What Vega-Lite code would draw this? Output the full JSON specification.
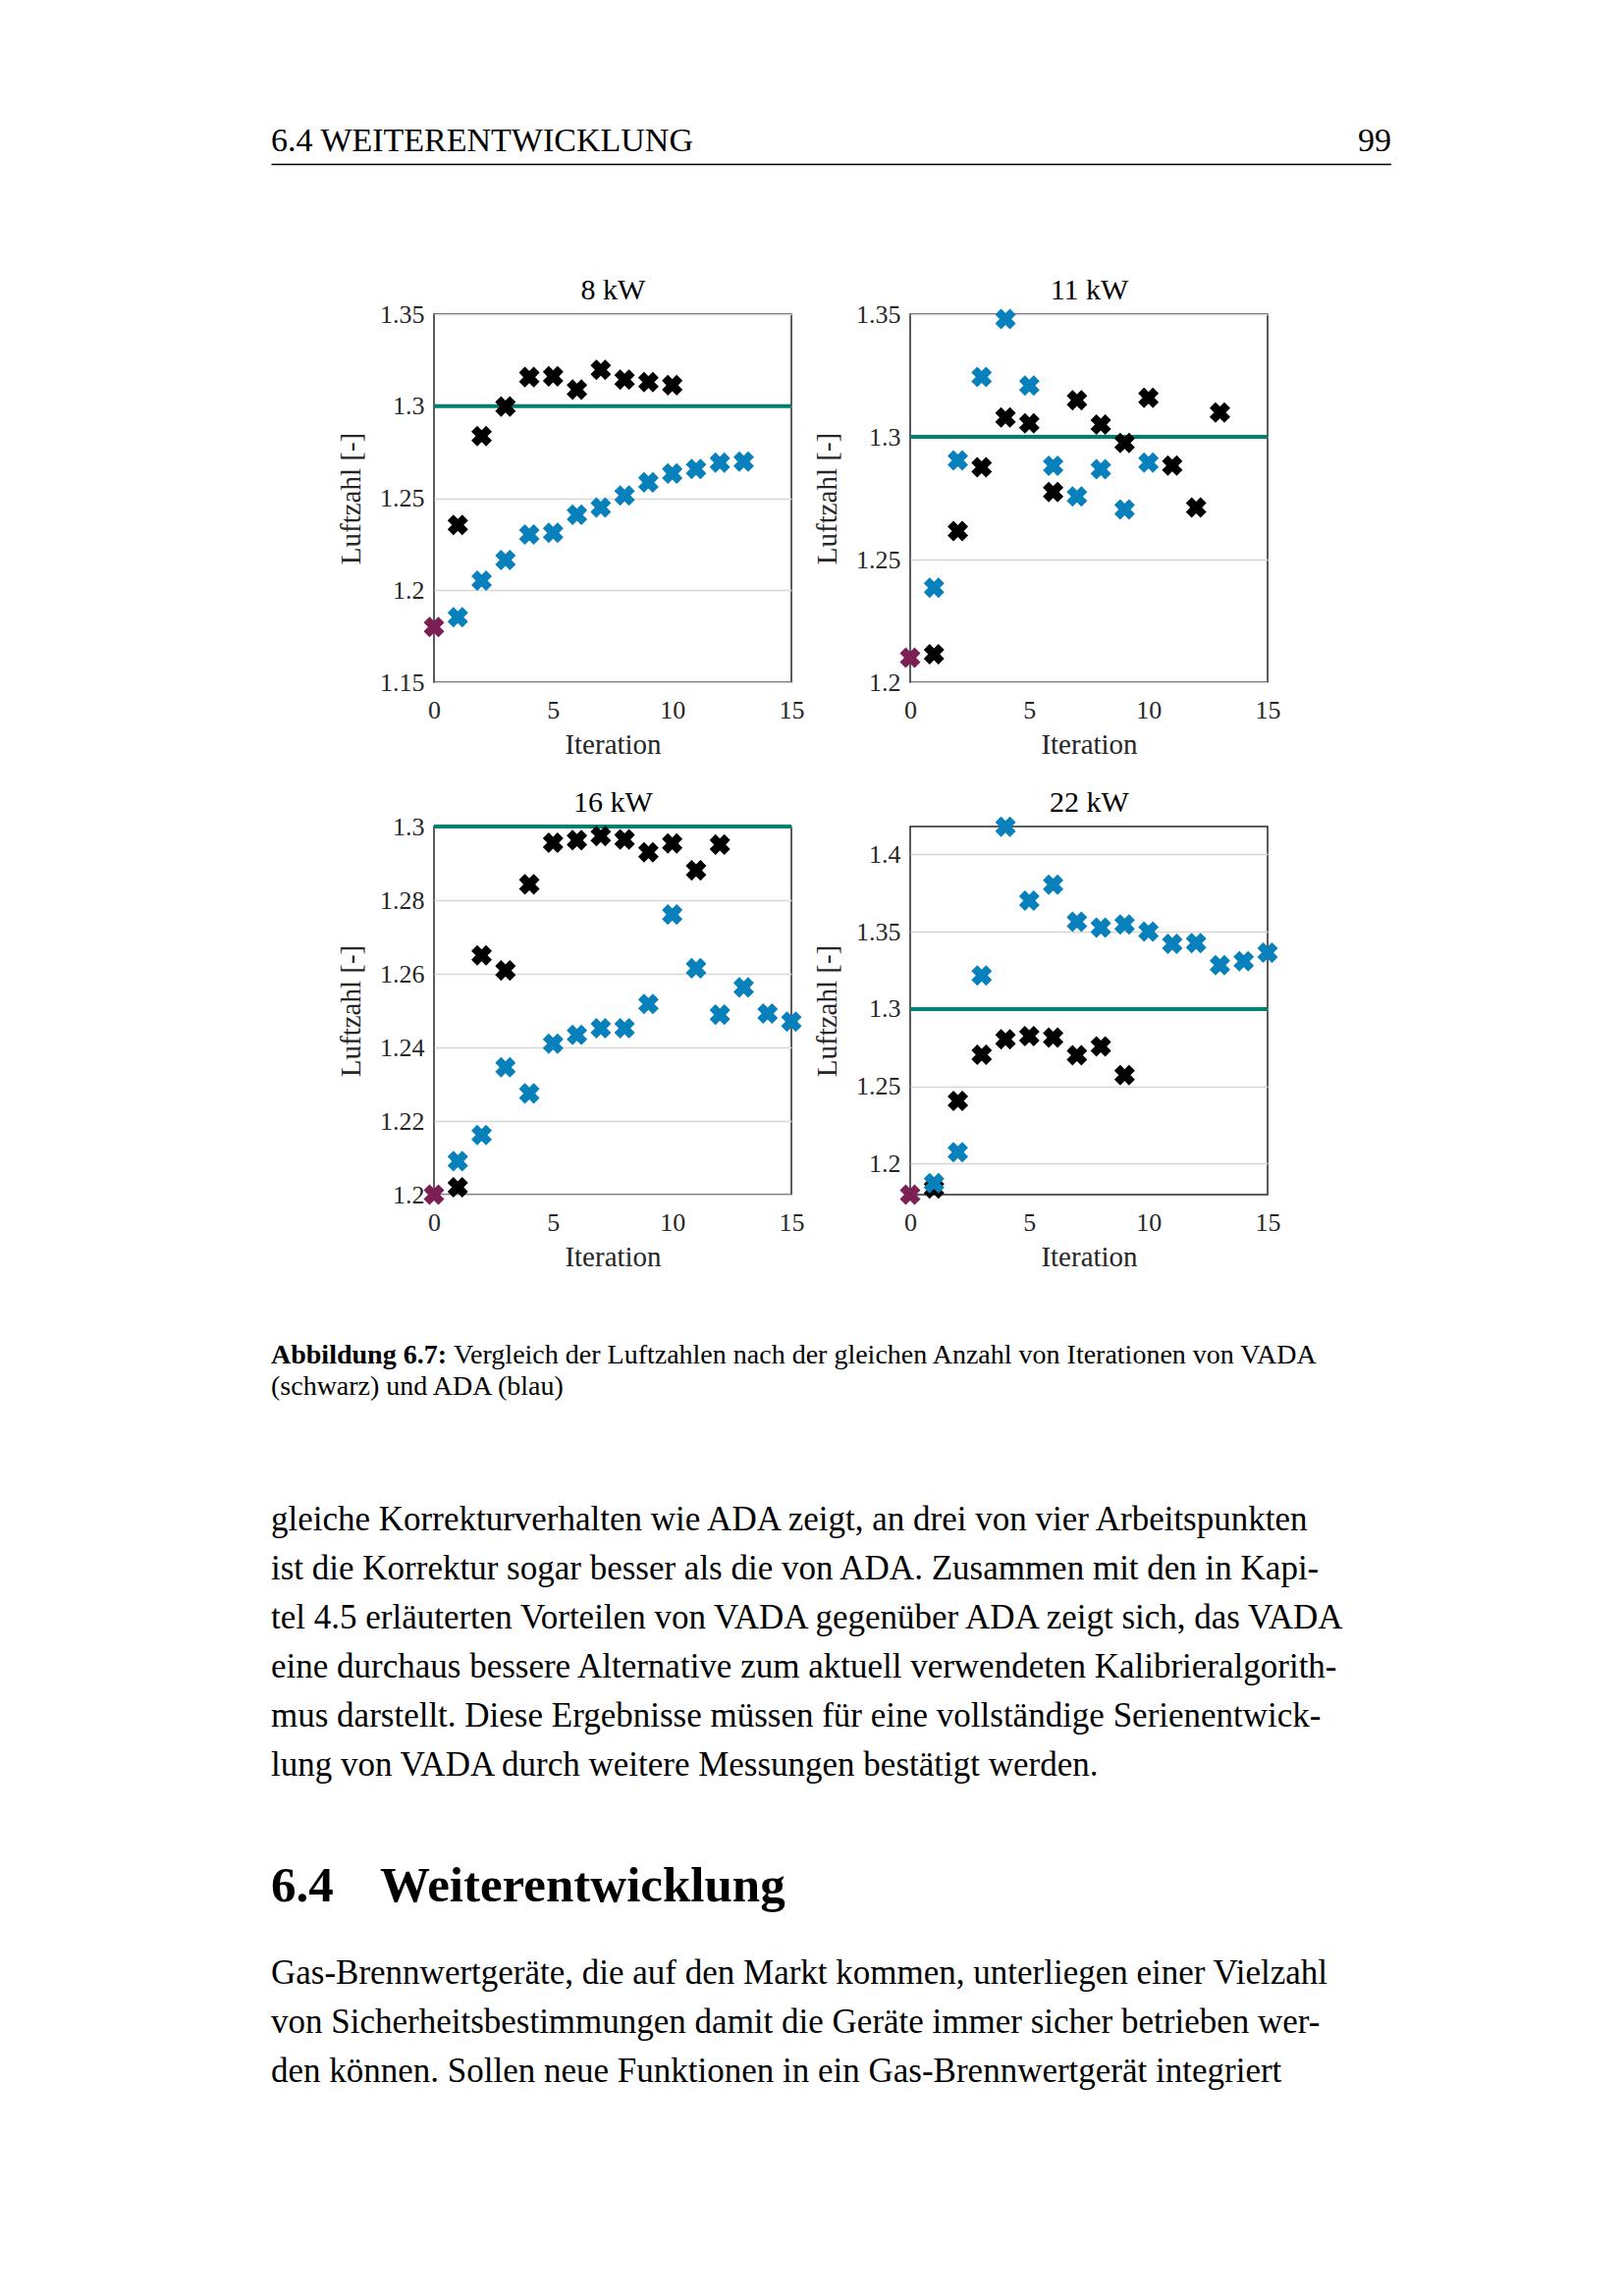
{
  "$schema": "https://vega.github.io/schema/vega-lite/v6.json",
  "background": "white",
  "padding": {"left": 276, "top": 121, "right": 0, "bottom": 0},
  "spacing": 0,
  "config": {
    "font": "Liberation Serif",
    "view": {"stroke": null},
    "text": {"font": "Liberation Serif", "color": "#000000"},
    "axis": {
      "labelFont": "Liberation Serif", "labelFontSize": 26, "labelColor": "#262626",
      "titleFont": "Liberation Serif", "titleFontSize": 29, "titleFontWeight": "normal", "titleColor": "#262626",
      "ticks": false, "tickSize": 0, "domain": false, "grid": true, "gridColor": "#d6d6d6", "gridWidth": 1.5, "labelFlush": false
    },
    "axisX": {"labelPadding": 15, "titlePadding": 8},
    "axisY": {"labelPadding": 10, "titlePadding": 14}
  },
  "datasets": {
    "header": [
      {"part": "title", "text": "6.4 WEITERENTWICKLUNG"},
      {"part": "page", "text": "99"}
    ],
    "caption": [
      {"line": 1, "part": "bold", "text": "Abbildung 6.7:"},
      {"line": 1, "part": "normal", "text": "Vergleich der Luftzahlen nach der gleichen Anzahl von Iterationen von VADA"},
      {"line": 2, "part": "normal", "text": "(schwarz) und ADA (blau)"}
    ],
    "body1": [
      {"line": 1, "text": "gleiche Korrekturverhalten wie ADA zeigt, an drei von vier Arbeitspunkten"},
      {"line": 2, "text": "ist die Korrektur sogar besser als die von ADA. Zusammen mit den in Kapi-"},
      {"line": 3, "text": "tel 4.5 erläuterten Vorteilen von VADA gegenüber ADA zeigt sich, das VADA"},
      {"line": 4, "text": "eine durchaus bessere Alternative zum aktuell verwendeten Kalibrieralgorith-"},
      {"line": 5, "text": "mus darstellt. Diese Ergebnisse müssen für eine vollständige Serienentwick-"},
      {"line": 6, "text": "lung von VADA durch weitere Messungen bestätigt werden."}
    ],
    "heading": [
      {"part": "number", "text": "6.4"},
      {"part": "name", "text": "Weiterentwicklung"}
    ],
    "body2": [
      {"line": 1, "text": "Gas-Brennwertgeräte, die auf den Markt kommen, unterliegen einer Vielzahl"},
      {"line": 2, "text": "von Sicherheitsbestimmungen damit die Geräte immer sicher betrieben wer-"},
      {"line": 3, "text": "den können. Sollen neue Funktionen in ein Gas-Brennwertgerät integriert"}
    ],
    "targets": [
      {"panel": "8 kW", "lambda": 1.3},
      {"panel": "11 kW", "lambda": 1.3},
      {"panel": "16 kW", "lambda": 1.3},
      {"panel": "22 kW", "lambda": 1.3}
    ],
    "points": [
      {"panel": "8 kW", "series": "VADA", "iteration": 1, "lambda": 1.2355},
      {"panel": "8 kW", "series": "VADA", "iteration": 2, "lambda": 1.2837},
      {"panel": "8 kW", "series": "VADA", "iteration": 3, "lambda": 1.2998},
      {"panel": "8 kW", "series": "VADA", "iteration": 4, "lambda": 1.3158},
      {"panel": "8 kW", "series": "VADA", "iteration": 5, "lambda": 1.3162},
      {"panel": "8 kW", "series": "VADA", "iteration": 6, "lambda": 1.309},
      {"panel": "8 kW", "series": "VADA", "iteration": 7, "lambda": 1.3197},
      {"panel": "8 kW", "series": "VADA", "iteration": 8, "lambda": 1.3144},
      {"panel": "8 kW", "series": "VADA", "iteration": 9, "lambda": 1.3131},
      {"panel": "8 kW", "series": "VADA", "iteration": 10, "lambda": 1.3114},
      {"panel": "8 kW", "series": "ADA", "iteration": 1, "lambda": 1.1853},
      {"panel": "8 kW", "series": "ADA", "iteration": 2, "lambda": 1.2052},
      {"panel": "8 kW", "series": "ADA", "iteration": 3, "lambda": 1.2164},
      {"panel": "8 kW", "series": "ADA", "iteration": 4, "lambda": 1.2303},
      {"panel": "8 kW", "series": "ADA", "iteration": 5, "lambda": 1.2312},
      {"panel": "8 kW", "series": "ADA", "iteration": 6, "lambda": 1.241},
      {"panel": "8 kW", "series": "ADA", "iteration": 7, "lambda": 1.2449},
      {"panel": "8 kW", "series": "ADA", "iteration": 8, "lambda": 1.2515},
      {"panel": "8 kW", "series": "ADA", "iteration": 9, "lambda": 1.2586},
      {"panel": "8 kW", "series": "ADA", "iteration": 10, "lambda": 1.2634},
      {"panel": "8 kW", "series": "ADA", "iteration": 11, "lambda": 1.2659},
      {"panel": "8 kW", "series": "ADA", "iteration": 12, "lambda": 1.2693},
      {"panel": "8 kW", "series": "ADA", "iteration": 13, "lambda": 1.2699},
      {"panel": "8 kW", "series": "Start", "iteration": 0, "lambda": 1.18},
      {"panel": "11 kW", "series": "VADA", "iteration": 1, "lambda": 1.2114},
      {"panel": "11 kW", "series": "VADA", "iteration": 2, "lambda": 1.2616},
      {"panel": "11 kW", "series": "VADA", "iteration": 3, "lambda": 1.2876},
      {"panel": "11 kW", "series": "VADA", "iteration": 4, "lambda": 1.3079},
      {"panel": "11 kW", "series": "VADA", "iteration": 5, "lambda": 1.3055},
      {"panel": "11 kW", "series": "VADA", "iteration": 6, "lambda": 1.2775},
      {"panel": "11 kW", "series": "VADA", "iteration": 7, "lambda": 1.3149},
      {"panel": "11 kW", "series": "VADA", "iteration": 8, "lambda": 1.305},
      {"panel": "11 kW", "series": "VADA", "iteration": 9, "lambda": 1.2975},
      {"panel": "11 kW", "series": "VADA", "iteration": 10, "lambda": 1.3159},
      {"panel": "11 kW", "series": "VADA", "iteration": 11, "lambda": 1.2883},
      {"panel": "11 kW", "series": "VADA", "iteration": 12, "lambda": 1.2712},
      {"panel": "11 kW", "series": "VADA", "iteration": 13, "lambda": 1.3099},
      {"panel": "11 kW", "series": "ADA", "iteration": 1, "lambda": 1.2385},
      {"panel": "11 kW", "series": "ADA", "iteration": 2, "lambda": 1.2904},
      {"panel": "11 kW", "series": "ADA", "iteration": 3, "lambda": 1.3244},
      {"panel": "11 kW", "series": "ADA", "iteration": 4, "lambda": 1.348},
      {"panel": "11 kW", "series": "ADA", "iteration": 5, "lambda": 1.3209},
      {"panel": "11 kW", "series": "ADA", "iteration": 6, "lambda": 1.2882},
      {"panel": "11 kW", "series": "ADA", "iteration": 7, "lambda": 1.2757},
      {"panel": "11 kW", "series": "ADA", "iteration": 8, "lambda": 1.2868},
      {"panel": "11 kW", "series": "ADA", "iteration": 9, "lambda": 1.2704},
      {"panel": "11 kW", "series": "ADA", "iteration": 10, "lambda": 1.2895},
      {"panel": "11 kW", "series": "Start", "iteration": 0, "lambda": 1.21},
      {"panel": "16 kW", "series": "VADA", "iteration": 1, "lambda": 1.202},
      {"panel": "16 kW", "series": "VADA", "iteration": 2, "lambda": 1.265},
      {"panel": "16 kW", "series": "VADA", "iteration": 3, "lambda": 1.2609},
      {"panel": "16 kW", "series": "VADA", "iteration": 4, "lambda": 1.2843},
      {"panel": "16 kW", "series": "VADA", "iteration": 5, "lambda": 1.2956},
      {"panel": "16 kW", "series": "VADA", "iteration": 6, "lambda": 1.2963},
      {"panel": "16 kW", "series": "VADA", "iteration": 7, "lambda": 1.2974},
      {"panel": "16 kW", "series": "VADA", "iteration": 8, "lambda": 1.2965},
      {"panel": "16 kW", "series": "VADA", "iteration": 9, "lambda": 1.293},
      {"panel": "16 kW", "series": "VADA", "iteration": 10, "lambda": 1.2954},
      {"panel": "16 kW", "series": "VADA", "iteration": 11, "lambda": 1.2881},
      {"panel": "16 kW", "series": "VADA", "iteration": 12, "lambda": 1.2951},
      {"panel": "16 kW", "series": "ADA", "iteration": 1, "lambda": 1.2091},
      {"panel": "16 kW", "series": "ADA", "iteration": 2, "lambda": 1.2162},
      {"panel": "16 kW", "series": "ADA", "iteration": 3, "lambda": 1.2346},
      {"panel": "16 kW", "series": "ADA", "iteration": 4, "lambda": 1.2275},
      {"panel": "16 kW", "series": "ADA", "iteration": 5, "lambda": 1.241},
      {"panel": "16 kW", "series": "ADA", "iteration": 6, "lambda": 1.2434},
      {"panel": "16 kW", "series": "ADA", "iteration": 7, "lambda": 1.2452},
      {"panel": "16 kW", "series": "ADA", "iteration": 8, "lambda": 1.2452},
      {"panel": "16 kW", "series": "ADA", "iteration": 9, "lambda": 1.2518},
      {"panel": "16 kW", "series": "ADA", "iteration": 10, "lambda": 1.2761},
      {"panel": "16 kW", "series": "ADA", "iteration": 11, "lambda": 1.2615},
      {"panel": "16 kW", "series": "ADA", "iteration": 12, "lambda": 1.2489},
      {"panel": "16 kW", "series": "ADA", "iteration": 13, "lambda": 1.2563},
      {"panel": "16 kW", "series": "ADA", "iteration": 14, "lambda": 1.2492},
      {"panel": "16 kW", "series": "ADA", "iteration": 15, "lambda": 1.247},
      {"panel": "16 kW", "series": "Start", "iteration": 0, "lambda": 1.2},
      {"panel": "22 kW", "series": "VADA", "iteration": 1, "lambda": 1.184},
      {"panel": "22 kW", "series": "VADA", "iteration": 2, "lambda": 1.2406},
      {"panel": "22 kW", "series": "VADA", "iteration": 3, "lambda": 1.2705},
      {"panel": "22 kW", "series": "VADA", "iteration": 4, "lambda": 1.2804},
      {"panel": "22 kW", "series": "VADA", "iteration": 5, "lambda": 1.2825},
      {"panel": "22 kW", "series": "VADA", "iteration": 6, "lambda": 1.2815},
      {"panel": "22 kW", "series": "VADA", "iteration": 7, "lambda": 1.2701},
      {"panel": "22 kW", "series": "VADA", "iteration": 8, "lambda": 1.2758},
      {"panel": "22 kW", "series": "VADA", "iteration": 9, "lambda": 1.2573},
      {"panel": "22 kW", "series": "ADA", "iteration": 1, "lambda": 1.1874},
      {"panel": "22 kW", "series": "ADA", "iteration": 2, "lambda": 1.2074},
      {"panel": "22 kW", "series": "ADA", "iteration": 3, "lambda": 1.3217},
      {"panel": "22 kW", "series": "ADA", "iteration": 4, "lambda": 1.4179},
      {"panel": "22 kW", "series": "ADA", "iteration": 5, "lambda": 1.3701},
      {"panel": "22 kW", "series": "ADA", "iteration": 6, "lambda": 1.3804},
      {"panel": "22 kW", "series": "ADA", "iteration": 7, "lambda": 1.3564},
      {"panel": "22 kW", "series": "ADA", "iteration": 8, "lambda": 1.3526},
      {"panel": "22 kW", "series": "ADA", "iteration": 9, "lambda": 1.3547},
      {"panel": "22 kW", "series": "ADA", "iteration": 10, "lambda": 1.3501},
      {"panel": "22 kW", "series": "ADA", "iteration": 11, "lambda": 1.3421},
      {"panel": "22 kW", "series": "ADA", "iteration": 12, "lambda": 1.3427},
      {"panel": "22 kW", "series": "ADA", "iteration": 13, "lambda": 1.3284},
      {"panel": "22 kW", "series": "ADA", "iteration": 14, "lambda": 1.3309},
      {"panel": "22 kW", "series": "ADA", "iteration": 15, "lambda": 1.3364},
      {"panel": "22 kW", "series": "Start", "iteration": 0, "lambda": 1.18}
    ]
  },
  "vconcat": [
    {
      "width": 1141, "height": 46,
      "data": {"name": "header"},
      "layer": [
        {
          "transform": [{"filter": "datum.part === 'title'"}],
          "mark": {"type": "text", "align": "left", "baseline": "middle", "fontSize": 34},
          "encoding": {
            "x": {"field": "part", "type": "ordinal", "scale": {"type": "point", "domain": ["title", "page"], "padding": 0},
                  "axis": {"orient": "bottom", "grid": false, "domain": true, "domainColor": "#000000", "domainWidth": 1.5, "labels": false, "ticks": false, "title": null}},
            "text": {"field": "text"}
          }
        },
        {
          "transform": [{"filter": "datum.part === 'page'"}],
          "mark": {"type": "text", "align": "right", "baseline": "middle", "fontSize": 34},
          "encoding": {
            "x": {"field": "part", "type": "ordinal", "scale": {"type": "point", "domain": ["title", "page"], "padding": 0},
                  "axis": {"orient": "bottom", "grid": false, "domain": true, "domainColor": "#000000", "domainWidth": 1.5, "labels": false, "ticks": false, "title": null}},
            "text": {"field": "text"}
          }
        }
      ]
    },
    {"width": 1, "height": 112, "data": {"values": []}, "mark": "point"},
    {
      "spacing": 0,
      "hconcat": [
        {"width": 66, "height": 1, "data": {"values": []}, "mark": "point"},
        {
          "columns": 2,
          "bounds": "flush",
          "spacing": {"row": 147, "column": 121},
          "concat": [
            {
              "width": 364, "height": 375,
              "view": {"stroke": "#262626", "strokeWidth": 1.5},
              "layer": [
                {
                  "data": {"name": "targets"},
                  "transform": [{"filter": "datum.panel === '8 kW'"}],
                  "mark": {"type": "rule", "color": "#00806f", "strokeWidth": 4},
                  "encoding": {
                    "x": {"datum": 0, "type": "quantitative", "scale": {"domain": [0, 15], "nice": false},
                          "axis": {"orient": "top", "title": "8 kW", "labels": false, "grid": false, "domain": false, "ticks": false, "titleFontSize": 30, "titleColor": "#000000", "titlePadding": 10}},
                    "x2": {"datum": 15},
                    "y": {"field": "lambda", "type": "quantitative", "scale": {"domain": [1.15, 1.35], "nice": false, "zero": false},
                          "axis": {"values": [1.15, 1.2, 1.25, 1.3, 1.35], "format": ".2~f", "title": "Luftzahl [-]"}}
                  }
                },
                {
                  "data": {"name": "points"},
                  "transform": [{"filter": "datum.panel === '8 kW'"}],
                  "mark": {"type": "point", "shape": "cross", "angle": 45, "filled": true, "size": 450, "opacity": 1},
                  "encoding": {
                    "x": {"field": "iteration", "type": "quantitative", "scale": {"domain": [0, 15], "nice": false},
                          "axis": {"orient": "bottom", "values": [0, 5, 10, 15], "title": "Iteration"}},
                    "y": {"field": "lambda", "type": "quantitative", "scale": {"domain": [1.15, 1.35], "nice": false, "zero": false},
                          "axis": {"values": [1.15, 1.2, 1.25, 1.3, 1.35], "format": ".2~f", "title": "Luftzahl [-]"}},
                    "color": {"field": "series", "type": "nominal", "scale": {"domain": ["VADA", "ADA", "Start"], "range": ["#000000", "#0780bb", "#7b1f55"]}, "legend": null}
                  }
                }
              ]
            },
            {
              "width": 364, "height": 375,
              "view": {"stroke": "#262626", "strokeWidth": 1.5},
              "layer": [
                {
                  "data": {"name": "targets"},
                  "transform": [{"filter": "datum.panel === '11 kW'"}],
                  "mark": {"type": "rule", "color": "#00806f", "strokeWidth": 4},
                  "encoding": {
                    "x": {"datum": 0, "type": "quantitative", "scale": {"domain": [0, 15], "nice": false},
                          "axis": {"orient": "top", "title": "11 kW", "labels": false, "grid": false, "domain": false, "ticks": false, "titleFontSize": 30, "titleColor": "#000000", "titlePadding": 10}},
                    "x2": {"datum": 15},
                    "y": {"field": "lambda", "type": "quantitative", "scale": {"domain": [1.2, 1.35], "nice": false, "zero": false},
                          "axis": {"values": [1.2, 1.25, 1.3, 1.35], "format": ".2~f", "title": "Luftzahl [-]"}}
                  }
                },
                {
                  "data": {"name": "points"},
                  "transform": [{"filter": "datum.panel === '11 kW'"}],
                  "mark": {"type": "point", "shape": "cross", "angle": 45, "filled": true, "size": 450, "opacity": 1},
                  "encoding": {
                    "x": {"field": "iteration", "type": "quantitative", "scale": {"domain": [0, 15], "nice": false},
                          "axis": {"orient": "bottom", "values": [0, 5, 10, 15], "title": "Iteration"}},
                    "y": {"field": "lambda", "type": "quantitative", "scale": {"domain": [1.2, 1.35], "nice": false, "zero": false},
                          "axis": {"values": [1.2, 1.25, 1.3, 1.35], "format": ".2~f", "title": "Luftzahl [-]"}},
                    "color": {"field": "series", "type": "nominal", "scale": {"domain": ["VADA", "ADA", "Start"], "range": ["#000000", "#0780bb", "#7b1f55"]}, "legend": null}
                  }
                }
              ]
            },
            {
              "width": 364, "height": 375,
              "view": {"stroke": "#262626", "strokeWidth": 1.5},
              "layer": [
                {
                  "data": {"name": "targets"},
                  "transform": [{"filter": "datum.panel === '16 kW'"}],
                  "mark": {"type": "rule", "color": "#00806f", "strokeWidth": 4},
                  "encoding": {
                    "x": {"datum": 0, "type": "quantitative", "scale": {"domain": [0, 15], "nice": false},
                          "axis": {"orient": "top", "title": "16 kW", "labels": false, "grid": false, "domain": false, "ticks": false, "titleFontSize": 30, "titleColor": "#000000", "titlePadding": 10}},
                    "x2": {"datum": 15},
                    "y": {"field": "lambda", "type": "quantitative", "scale": {"domain": [1.2, 1.3], "nice": false, "zero": false},
                          "axis": {"values": [1.2, 1.22, 1.24, 1.26, 1.28, 1.3], "format": ".2~f", "title": "Luftzahl [-]"}}
                  }
                },
                {
                  "data": {"name": "points"},
                  "transform": [{"filter": "datum.panel === '16 kW'"}],
                  "mark": {"type": "point", "shape": "cross", "angle": 45, "filled": true, "size": 450, "opacity": 1},
                  "encoding": {
                    "x": {"field": "iteration", "type": "quantitative", "scale": {"domain": [0, 15], "nice": false},
                          "axis": {"orient": "bottom", "values": [0, 5, 10, 15], "title": "Iteration"}},
                    "y": {"field": "lambda", "type": "quantitative", "scale": {"domain": [1.2, 1.3], "nice": false, "zero": false},
                          "axis": {"values": [1.2, 1.22, 1.24, 1.26, 1.28, 1.3], "format": ".2~f", "title": "Luftzahl [-]"}},
                    "color": {"field": "series", "type": "nominal", "scale": {"domain": ["VADA", "ADA", "Start"], "range": ["#000000", "#0780bb", "#7b1f55"]}, "legend": null}
                  }
                }
              ]
            },
            {
              "width": 364, "height": 375,
              "view": {"stroke": "#262626", "strokeWidth": 1.5},
              "layer": [
                {
                  "data": {"name": "targets"},
                  "transform": [{"filter": "datum.panel === '22 kW'"}],
                  "mark": {"type": "rule", "color": "#00806f", "strokeWidth": 4},
                  "encoding": {
                    "x": {"datum": 0, "type": "quantitative", "scale": {"domain": [0, 15], "nice": false},
                          "axis": {"orient": "top", "title": "22 kW", "labels": false, "grid": false, "domain": false, "ticks": false, "titleFontSize": 30, "titleColor": "#000000", "titlePadding": 10}},
                    "x2": {"datum": 15},
                    "y": {"field": "lambda", "type": "quantitative", "scale": {"domain": [1.18, 1.418], "nice": false, "zero": false},
                          "axis": {"values": [1.2, 1.25, 1.3, 1.35, 1.4], "format": ".2~f", "title": "Luftzahl [-]"}}
                  }
                },
                {
                  "data": {"name": "points"},
                  "transform": [{"filter": "datum.panel === '22 kW'"}],
                  "mark": {"type": "point", "shape": "cross", "angle": 45, "filled": true, "size": 450, "opacity": 1},
                  "encoding": {
                    "x": {"field": "iteration", "type": "quantitative", "scale": {"domain": [0, 15], "nice": false},
                          "axis": {"orient": "bottom", "values": [0, 5, 10, 15], "title": "Iteration"}},
                    "y": {"field": "lambda", "type": "quantitative", "scale": {"domain": [1.18, 1.418], "nice": false, "zero": false},
                          "axis": {"values": [1.2, 1.25, 1.3, 1.35, 1.4], "format": ".2~f", "title": "Luftzahl [-]"}},
                    "color": {"field": "series", "type": "nominal", "scale": {"domain": ["VADA", "ADA", "Start"], "range": ["#000000", "#0780bb", "#7b1f55"]}, "legend": null}
                  }
                }
              ]
            }
          ]
        }
      ]
    },
    {"width": 1, "height": 69, "data": {"values": []}, "mark": "point"},
    {
      "width": 1141, "height": 64,
      "data": {"name": "caption"},
      "encoding": {
        "x": {"datum": 0, "type": "quantitative", "scale": {"domain": [0, 1]}, "axis": null},
        "y": {"field": "line", "type": "ordinal", "scale": {"type": "point", "padding": 0.5, "domain": [1, 2]}, "axis": null},
        "text": {"field": "text"}
      },
      "layer": [
        {"transform": [{"filter": "datum.part === 'bold'"}], "mark": {"type": "text", "align": "left", "baseline": "middle", "fontSize": 28, "fontWeight": "bold"}},
        {"transform": [{"filter": "datum.part === 'normal' && datum.line === 1"}], "mark": {"type": "text", "align": "left", "baseline": "middle", "fontSize": 28, "dx": 186}},
        {"transform": [{"filter": "datum.line === 2"}], "mark": {"type": "text", "align": "left", "baseline": "middle", "fontSize": 28}}
      ]
    },
    {"width": 1, "height": 94, "data": {"values": []}, "mark": "point"},
    {
      "width": 1141, "height": 300,
      "data": {"name": "body1"},
      "mark": {"type": "text", "align": "left", "baseline": "middle", "fontSize": 35},
      "encoding": {
        "x": {"datum": 0, "type": "quantitative", "scale": {"domain": [0, 1]}, "axis": null},
        "y": {"field": "line", "type": "ordinal", "scale": {"type": "point", "padding": 0.5}, "axis": null},
        "text": {"field": "text"}
      }
    },
    {"width": 1, "height": 69, "data": {"values": []}, "mark": "point"},
    {
      "width": 1141, "height": 60,
      "data": {"name": "heading"},
      "encoding": {
        "x": {"datum": 0, "type": "quantitative", "scale": {"domain": [0, 1]}, "axis": null},
        "text": {"field": "text"}
      },
      "layer": [
        {"transform": [{"filter": "datum.part === 'number'"}], "mark": {"type": "text", "align": "left", "baseline": "middle", "fontSize": 51, "fontWeight": "bold"}},
        {"transform": [{"filter": "datum.part === 'name'"}], "mark": {"type": "text", "align": "left", "baseline": "middle", "fontSize": 51, "fontWeight": "bold", "dx": 111}}
      ]
    },
    {"width": 1, "height": 33, "data": {"values": []}, "mark": "point"},
    {
      "width": 1141, "height": 150,
      "data": {"name": "body2"},
      "mark": {"type": "text", "align": "left", "baseline": "middle", "fontSize": 35},
      "encoding": {
        "x": {"datum": 0, "type": "quantitative", "scale": {"domain": [0, 1]}, "axis": null},
        "y": {"field": "line", "type": "ordinal", "scale": {"type": "point", "padding": 0.5}, "axis": null},
        "text": {"field": "text"}
      }
    }
  ]
}
